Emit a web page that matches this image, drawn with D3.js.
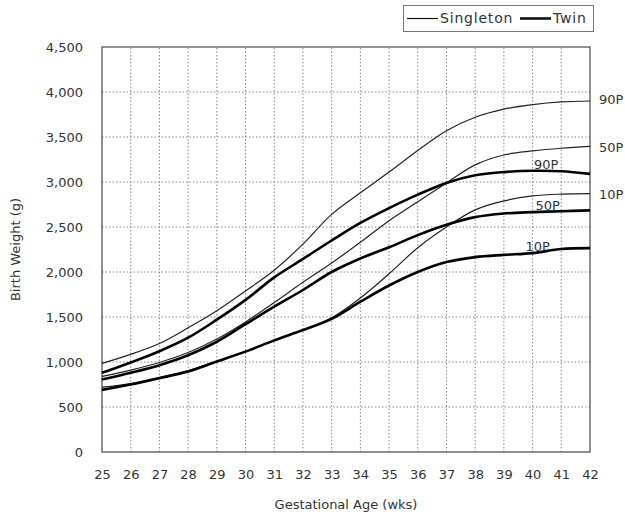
<!DOCTYPE html>
<html>
<head>
<meta charset="utf-8">
<script src="https://cdn.jsdelivr.net/npm/d3@7"></script>
<style>
  html, body { margin: 0; padding: 0; background: #fff; }
  svg text { font-family: "DejaVu Sans", "Liberation Sans", sans-serif; fill: #333; }
</style>
</head>
<body>
<svg id="chart" width="625" height="516"></svg>
<script>
// Gestational age in weeks
const weeks = [25, 26, 27, 28, 29, 30, 31, 32, 33, 34, 35, 36, 37, 38, 39, 40, 41, 42];

// Birth weight percentiles (g), singleton births
const singleton90 = [985, 1085, 1205, 1380, 1570, 1790, 2020, 2310, 2640, 2880, 3110, 3350, 3570, 3720, 3810, 3860, 3890, 3900];
const singleton50 = [840, 910, 995, 1105, 1255, 1445, 1660, 1885, 2100, 2330, 2570, 2780, 2990, 3190, 3300, 3345, 3375, 3395];
const singleton10 = [720, 760, 830, 905, 1010, 1120, 1240, 1355, 1490, 1710, 1980, 2270, 2500, 2690, 2790, 2845, 2865, 2870];

// Birth weight percentiles (g), twin births
const twin90 = [880, 995, 1120, 1270, 1470, 1690, 1940, 2145, 2350, 2545, 2710, 2860, 2990, 3075, 3110, 3125, 3120, 3090];
const twin50 = [805, 880, 965, 1075, 1225, 1420, 1615, 1800, 2000, 2150, 2275, 2410, 2525, 2610, 2650, 2665, 2675, 2685];
const twin10 = [690, 750, 820, 895, 1005, 1115, 1240, 1355, 1480, 1670, 1850, 2000, 2110, 2165, 2190, 2210, 2255, 2265];

const yTicks = [0, 500, 1000, 1500, 2000, 2500, 3000, 3500, 4000, 4500];
const seriesNames = ["Singleton", "Twin"];
const pctLabels = ["90P", "50P", "10P"];

const svg = d3.select("#chart");
const margin = { left: 102, right: 35, top: 47, bottom: 64 };
const W = 625, H = 516;
const x = d3.scaleLinear().domain([25, 42]).range([margin.left, W - margin.right]);
const y = d3.scaleLinear().domain([0, 4500]).range([H - margin.bottom, margin.top]);

// dotted grid
const grid = svg.append("g");
grid.selectAll("line.v").data(weeks.slice(1, -1)).join("line")
  .attr("x1", d => x(d)).attr("x2", d => x(d))
  .attr("y1", y(0)).attr("y2", y(4500))
  .attr("stroke", "#888").attr("stroke-width", 1).attr("stroke-dasharray", "1.5,2");
grid.selectAll("line.h").data(yTicks.slice(1, -1)).join("line")
  .attr("x1", x(25)).attr("x2", x(42))
  .attr("y1", d => y(d)).attr("y2", d => y(d))
  .attr("stroke", "#888").attr("stroke-width", 1).attr("stroke-dasharray", "1.5,2");

// plot frame
svg.append("rect")
  .attr("x", x(25)).attr("y", y(4500))
  .attr("width", x(42) - x(25)).attr("height", y(0) - y(4500))
  .attr("fill", "none").attr("stroke", "#555").attr("stroke-width", 1.3);

// axes
const yAxis = d3.axisLeft(y).tickValues(yTicks).tickSize(0).tickPadding(19)
  .tickFormat(d3.format(","));
const gy = svg.append("g").attr("transform", `translate(${x(25)},0)`).call(yAxis);
gy.select(".domain").remove();
gy.selectAll("text").style("font-size", "13px").attr("fill", "#333");

const xAxis = d3.axisBottom(x).tickValues(weeks).tickSize(0).tickPadding(18)
  .tickFormat(d3.format("d"));
const gx = svg.append("g").attr("transform", `translate(0,${y(0)})`).call(xAxis);
gx.select(".domain").remove();
gx.selectAll("text").style("font-size", "13px").attr("fill", "#333");

// axis titles
svg.append("text")
  .attr("x", (x(25) + x(42)) / 2).attr("y", 509)
  .attr("text-anchor", "middle").style("font-size", "13px")
  .text("Gestational Age (wks)");
svg.append("text")
  .attr("transform", `translate(20,${(y(0) + y(4500)) / 2}) rotate(-90)`)
  .attr("text-anchor", "middle").style("font-size", "13px")
  .text("Birth Weight (g)");

// curves
const line = d3.line()
  .x((d, i) => x(weeks[i]))
  .y(d => y(d))
  .curve(d3.curveCatmullRom.alpha(0.5));

const singles = [singleton90, singleton50, singleton10];
const twins = [twin90, twin50, twin10];

svg.append("g").selectAll("path").data(singles).join("path")
  .attr("d", line).attr("fill", "none")
  .attr("stroke", "#222").attr("stroke-width", 1.2);
svg.append("g").selectAll("path").data(twins).join("path")
  .attr("d", line).attr("fill", "none")
  .attr("stroke", "#000").attr("stroke-width", 2.6);

// percentile labels: singleton at the right edge, twin inside the plot
const last = weeks.length - 1;
const rightDy = [-3, 0, 0];
svg.append("g").selectAll("text").data(singles).join("text")
  .attr("x", x(42) + 9)
  .attr("y", (d, i) => y(d[last]) + 2 + rightDy[i])
  .attr("dominant-baseline", "middle")
  .style("font-size", "13px").attr("fill", "#222")
  .text((d, i) => pctLabels[i]);

const twinLabelWeek = [40.05, 40.1, 39.75];
svg.append("g").selectAll("text").data(twins).join("text")
  .attr("x", (d, i) => x(twinLabelWeek[i]))
  .attr("y", d => y(d[15]) - 2)
  .style("font-size", "13px").attr("fill", "#222")
  .text((d, i) => pctLabels[i]);

// legend
const lg = svg.append("g");
lg.append("rect").attr("x", 403.5).attr("y", 5.5).attr("width", 190).attr("height", 26)
  .attr("fill", "#fff").attr("stroke", "#777").attr("stroke-width", 1);
const legendItems = [
  { name: seriesNames[0], x0: 407, width: 1.2 },
  { name: seriesNames[1], x0: 520, width: 2.6 }
];
legendItems.forEach(it => {
  lg.append("line").attr("x1", it.x0).attr("x2", it.x0 + 31)
    .attr("y1", 18.5).attr("y2", 18.5)
    .attr("stroke", "#111").attr("stroke-width", it.width);
  lg.append("text").attr("x", it.x0 + 33).attr("y", 19)
    .attr("dominant-baseline", "middle")
    .style("font-size", "14px").style("letter-spacing", "0.8px").attr("fill", "#222")
    .text(it.name);
});
</script>
</body>
</html>
